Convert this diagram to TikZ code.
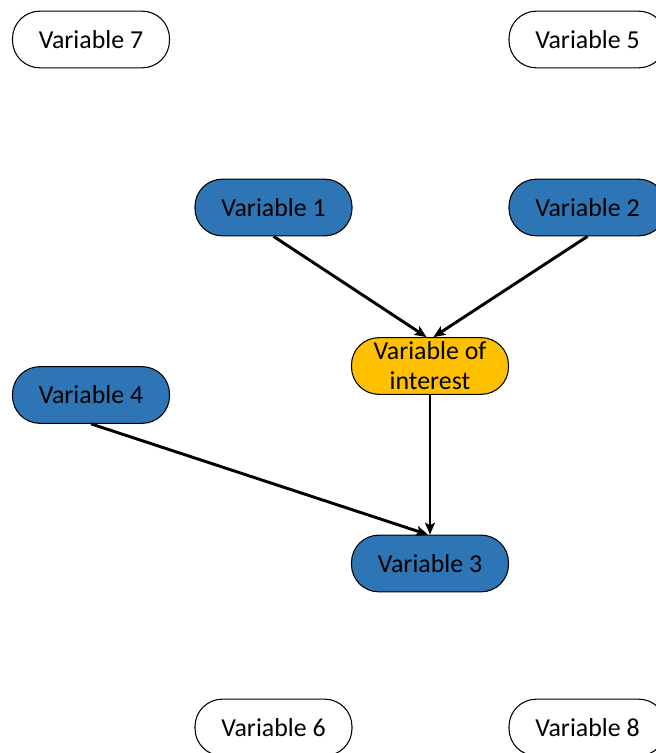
\documentclass[tikz,border=0pt]{standalone}
\usepackage{fontspec}
\setmainfont{Carlito}
\usetikzlibrary{arrows.meta}
\definecolor{varblue}{HTML}{2E75B6}
\definecolor{focusyellow}{HTML}{FFC000}
\begin{document}
\begin{tikzpicture}[x=0.75pt,y=-0.75pt,
  varbox/.style={draw=black, line width=0.8pt, rounded corners=20.5pt,
    minimum width=117.75pt, minimum height=42.5pt, inner sep=0pt,
    align=center, font=\fontsize{19.4pt}{22.5pt}\selectfont},
  idle/.style={varbox, fill=white},
  linked/.style={varbox, fill=varblue},
  focus/.style={varbox, fill=focusyellow},
  link/.style={line width=2.2pt, -{Stealth[length=9pt,width=7.5pt,inset=2pt]}}]
\useasboundingbox (0,0) rectangle (656,753);
\node[idle]   (v7)  at (91,39.5)   {Variable 7};
\node[idle]   (v5)  at (587.5,39.5) {Variable 5};
\node[linked] (v1)  at (273.5,207.5) {Variable 1};
\node[linked] (v2)  at (587.5,207.5) {Variable 2};
\node[focus]  (voi) at (430,366)   {Variable of\\interest};
\node[linked] (v4)  at (91,395)    {Variable 4};
\node[linked] (v3)  at (430,563.5) {Variable 3};
\node[idle]   (v6)  at (273.5,727.5) {Variable 6};
\node[idle]   (v8)  at (587.5,727.5) {Variable 8};
\coordinate (voiL) at ([xshift=-2.5pt]voi.north);
\coordinate (voiR) at ([xshift=2.5pt]voi.north);
\coordinate (v3L) at ([xshift=-1.5pt]v3.north);
\draw[link] (v1.south) -- (voiL);
\draw[link] (v2.south) -- (voiR);
\draw[link] (voi.south) -- (v3.north);
\draw[link] (v4.south) -- (v3L);
\end{tikzpicture}
\end{document}
